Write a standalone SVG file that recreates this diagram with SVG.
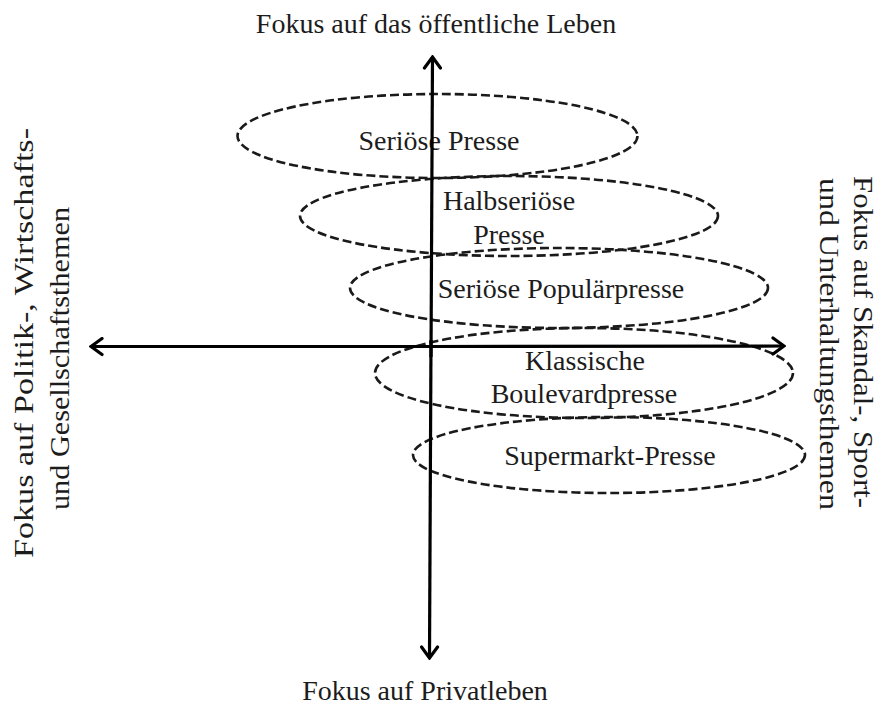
<svg xmlns="http://www.w3.org/2000/svg" width="878" height="706" viewBox="0 0 878 706">
<style>
text{font-family:"Liberation Serif","Times New Roman",serif;font-size:28px;fill:#1c1c1c}
.c{text-anchor:middle}
.e{fill:none;stroke:#1a1a1a;stroke-width:2.6;stroke-dasharray:9 4}
.ax{fill:none;stroke:#000;stroke-width:3.2}
</style>
<defs>
<marker id="ah" viewBox="-14 -10 16 20" markerWidth="16" markerHeight="20" refX="0" refY="0" orient="auto" markerUnits="userSpaceOnUse">
<path d="M-11,-8 L0,0 L-11,8" fill="none" stroke="#000" stroke-width="3.2" stroke-linecap="round" stroke-linejoin="miter"/>
</marker>
</defs>
<rect width="878" height="706" fill="#fff"/>
<text class="c" x="436" y="33">Fokus auf das öffentliche Leben</text>
<text class="c" x="425" y="700">Fokus auf Privatleben</text>
<text transform="translate(33,558) rotate(-90)" textLength="430" lengthAdjust="spacingAndGlyphs">Fokus auf Politik-, Wirtschafts-</text>
<text transform="translate(69,510) rotate(-90)" textLength="303" lengthAdjust="spacingAndGlyphs">und Gesellschaftsthemen</text>
<text transform="translate(854,176) rotate(90)" textLength="332" lengthAdjust="spacingAndGlyphs">Fokus auf Skandal-, Sport-</text>
<text transform="translate(820,178) rotate(90)" textLength="332" lengthAdjust="spacingAndGlyphs">und Unterhaltungsthemen</text>
<g id="n1">
<ellipse class="e" cx="437.5" cy="136" rx="200" ry="42"/>
<text class="c" x="439" y="150">Seriöse Presse</text>
</g>
<g id="n2">
<ellipse class="e" cx="509" cy="216" rx="209" ry="40"/>
<text class="c" x="509" y="210">Halbseriöse</text>
<text class="c" x="509" y="244">Presse</text>
</g>
<g id="n3">
<ellipse class="e" cx="559" cy="288" rx="209" ry="40"/>
<text class="c" x="561" y="298">Seriöse Populärpresse</text>
</g>
<g id="n4">
<ellipse class="e" cx="584" cy="373" rx="209" ry="45"/>
<text class="c" x="585" y="370">Klassische</text>
<text class="c" x="584" y="403">Boulevardpresse</text>
</g>
<g id="n5">
<ellipse class="e" cx="609" cy="455" rx="196" ry="38"/>
<text class="c" x="610" y="465">Supermarkt-Presse</text>
</g>
<g id="connectors">
<line class="ax" x1="431" y1="357" x2="432.5" y2="57" marker-end="url(#ah)"/>
<line class="ax" x1="431" y1="340" x2="429.5" y2="658" marker-end="url(#ah)"/>
<line class="ax" x1="431" y1="346.5" x2="91" y2="346.5" marker-end="url(#ah)"/>
<line class="ax" x1="431" y1="346.5" x2="784" y2="346" marker-end="url(#ah)"/>
</g>
</svg>
